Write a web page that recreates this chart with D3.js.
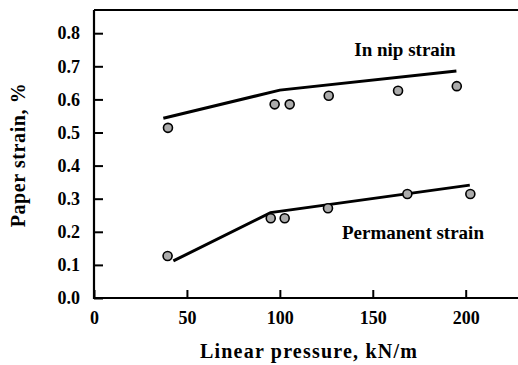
<!DOCTYPE html>
<html>
<head>
<meta charset="utf-8">
<script src="https://cdn.jsdelivr.net/npm/d3@7"></script>
<style>
  body { margin: 0; background: #fff; }
  svg { display: block; font-family: "Liberation Serif", "Times New Roman", serif; }
  svg text { font-family: "Liberation Serif", "Times New Roman", serif; }
</style>
</head>
<body>
<div id="chart"></div>
<script>
// Measured points (circles)
const nipPressure = [39.8, 97.2, 105.3, 126.3, 163.6, 195.2];
const nipStrain = [0.514, 0.585, 0.585, 0.611, 0.626, 0.640];
const permPressure = [39.6, 95.1, 102.6, 125.9, 168.6, 202.5];
const permStrain = [0.127, 0.241, 0.241, 0.271, 0.314, 0.314];

// Model lines
const nipLineX = [37.3, 100, 195.0];
const nipLineY = [0.543, 0.628, 0.686];
const permLineX = [42.7, 95.0, 202.2];
const permLineY = [0.112, 0.258, 0.341];

const xTicks = [0, 50, 100, 150, 200];
const yTicks = [0, 0.1, 0.2, 0.3, 0.4, 0.5, 0.6, 0.7, 0.8];

const W = 518, H = 365;
const x = d3.scaleLinear().domain([0, 200]).range([94, 465.7]);
const y = d3.scaleLinear().domain([0, 0.8]).range([298, 33.2]);
const frameTop = 10;

const svg = d3.select('#chart').append('svg')
    .attr('width', W).attr('height', H);

// frame top line (right side is cut off)
svg.append('line')
    .attr('x1', x(0)).attr('x2', W)
    .attr('y1', frameTop).attr('y2', frameTop)
    .attr('stroke', '#000').attr('stroke-width', 2);

// axes
const xAxis = svg.append('g')
    .attr('transform', `translate(0,${y(0)})`)
    .call(d3.axisBottom(x).tickValues(xTicks).tickSizeInner(-8).tickSizeOuter(0).tickPadding(13).tickFormat(d3.format('d')));
xAxis.select('.domain').remove();
xAxis.append('line')
    .attr('x1', x(0)).attr('x2', W)
    .attr('stroke', '#000').attr('stroke-width', 2.2);

const yAxis = svg.append('g')
    .attr('transform', `translate(${x(0)},0)`)
    .call(d3.axisLeft(y).tickValues(yTicks).tickSizeInner(-9).tickSizeOuter(0).tickPadding(14).tickFormat(d3.format('.1f')));
yAxis.select('.domain').remove();
yAxis.append('line')
    .attr('y1', frameTop).attr('y2', y(0) + 1)
    .attr('stroke', '#000').attr('stroke-width', 2.2);

[xAxis, yAxis].forEach(g => g
    .attr('font-family', '"Liberation Serif", serif')
    .attr('font-size', 18)
    .attr('font-weight', 'bold'));
svg.selectAll('.tick line').attr('stroke', '#000').attr('stroke-width', 2);
svg.selectAll('.tick text').attr('fill', '#000');

// lines
const line = d3.line().x(d => x(d[0])).y(d => y(d[1]));
[[nipLineX, nipLineY], [permLineX, permLineY]].forEach(([xs, ys]) => {
    svg.append('path')
        .datum(xs.map((v, i) => [v, ys[i]]))
        .attr('d', line)
        .attr('fill', 'none')
        .attr('stroke', '#000')
        .attr('stroke-width', 3);
});

// points
[[nipPressure, nipStrain], [permPressure, permStrain]].forEach(([xs, ys]) => {
    svg.append('g').selectAll('circle')
        .data(xs.map((v, i) => [v, ys[i]]))
        .enter().append('circle')
        .attr('cx', d => x(d[0]))
        .attr('cy', d => y(d[1]))
        .attr('r', 4.5)
        .attr('fill', '#ababab')
        .attr('stroke', '#000')
        .attr('stroke-width', 1.6);
});

// labels
svg.append('text')
    .attr('x', 405).attr('y', 56)
    .attr('text-anchor', 'middle')
    .style('font-size', '19px').style('font-weight', 'bold')
    .text('In nip strain');

svg.append('text')
    .attr('x', 413).attr('y', 239)
    .attr('text-anchor', 'middle')
    .style('font-size', '19px').style('font-weight', 'bold')
    .text('Permanent strain');

svg.append('text')
    .attr('x', 309).attr('y', 358)
    .attr('text-anchor', 'middle')
    .style('font-size', '20px').style('font-weight', 'bold')
    .style('letter-spacing', '1.2px')
    .text('Linear pressure, kN/m');

svg.append('text')
    .attr('transform', 'translate(25,155) rotate(-90)')
    .attr('text-anchor', 'middle')
    .style('font-size', '20px').style('font-weight', 'bold')
    .style('letter-spacing', '0.6px')
    .text('Paper strain, %');
</script>
</body>
</html>
